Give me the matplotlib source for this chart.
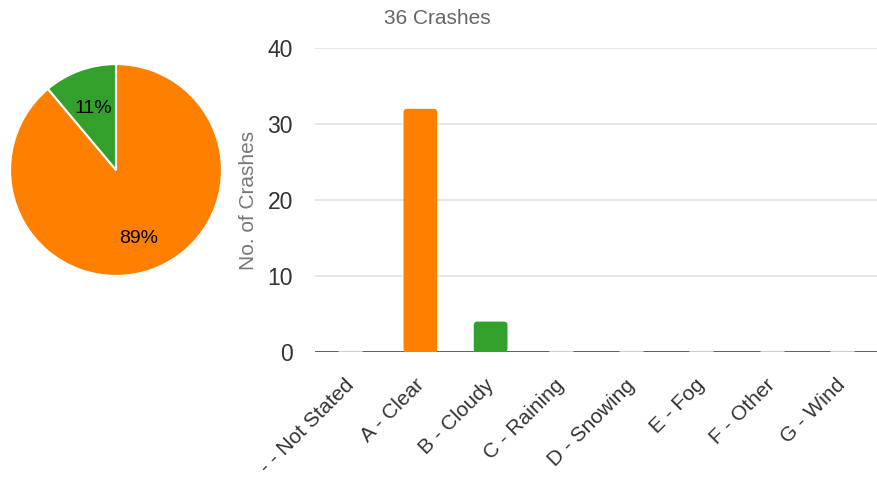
import matplotlib.pyplot as plt
from matplotlib.patches import FancyBboxPatch
from matplotlib.transforms import ScaledTranslation
import numpy as np

plt.rcParams['font.family'] = ['Liberation Sans', 'DejaVu Sans']

categories = ['- - Not Stated', 'A - Clear', 'B - Cloudy', 'C - Raining',
              'D - Snowing', 'E - Fog', 'F - Other', 'G - Wind']
crashes = [0, 32, 4, 0, 0, 0, 0, 0]
colors = ['#ff8000', '#ff8000', '#33a02c', '#ff8000', '#ff8000',
          '#ff8000', '#ff8000', '#ff8000']

pie_vals = [32, 4]
pie_colors = ['#ff8000', '#33a02c']
pie_labels = ['89%', '11%']

fig = plt.figure(figsize=(8.77, 4.82), dpi=100)

# pie on the left
W, H = 877, 482
pax = fig.add_axes([9 / W, 1 - 277 / H, 214 / W, 214 / H])
wedges, _ = pax.pie(pie_vals, colors=pie_colors, startangle=90, counterclock=False,
                    wedgeprops=dict(edgecolor='white', linewidth=1.5))
pax.set_xlim(-1.01, 1.01)
pax.set_ylim(-1.01, 1.01)
pax.text(0.21, -0.65, pie_labels[0], ha='center', va='center', fontsize=14)
pax.text(-0.21, 0.58, pie_labels[1], ha='center', va='center', fontsize=14)

# bars on the right
ax = fig.add_axes([315 / W, 1 - 352 / H, 562 / W, 304 / H])
x = np.arange(len(categories))
w = 0.48
ax.set_xlim(-0.5, len(categories) - 0.5)
ax.set_ylim(0, 40)
aspect = (40 / 304) / (len(categories) / 562)
for xi, v, c in zip(x, crashes, colors):
    if v > 0:
        top = FancyBboxPatch((xi - w / 2, 0), w, v,
                             boxstyle='round,pad=0,rounding_size=0.05',
                             mutation_aspect=aspect, fc=c, ec='none', zorder=3)
        ax.add_patch(top)
        ax.bar(xi, v / 2, width=w, color=c, edgecolor='none', zorder=3)
    else:
        ax.hlines(0, xi - 0.17, xi + 0.17, color='#d0d0d0', lw=2.2, zorder=4)

ax.set_yticks([0, 10, 20, 30, 40])
ax.grid(axis='y', color='#e3e3e3', lw=1.2, zorder=0)
ax.axhline(0, color='#555555', lw=2, zorder=2)
for s in ax.spines.values():
    s.set_visible(False)
ax.tick_params(axis='y', length=0, pad=16, labelsize=16.5, labelcolor='#333333')
ax.tick_params(axis='x', length=0, pad=17, labelsize=15, labelcolor='#333333')
ax.set_xticks(x)
ax.set_xticklabels(categories, rotation=45, ha='right', rotation_mode='anchor')
shift = ScaledTranslation(-6 / 100, 0, fig.dpi_scale_trans)
for lab in ax.get_xticklabels():
    lab.set_transform(lab.get_transform() + shift)
ax.set_ylabel('No. of Crashes', fontsize=15, color='#777777', labelpad=7)

fig.text(437 / W, 1 - 18 / H, '36 Crashes', ha='center', va='center',
         fontsize=15, color='#666666')

fig.savefig('out.png', dpi=100)
